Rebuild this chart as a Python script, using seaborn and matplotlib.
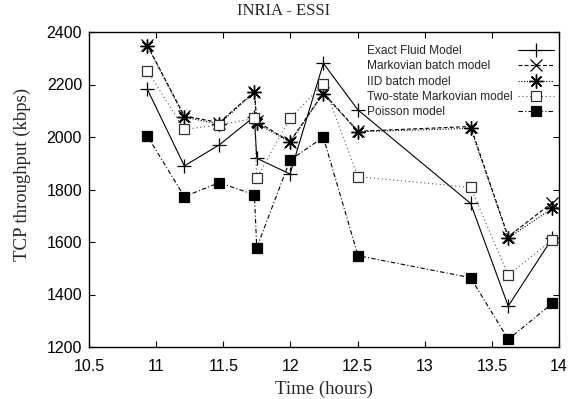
import matplotlib
matplotlib.use("Agg")
import matplotlib.pyplot as plt
from matplotlib.lines import Line2D
import seaborn as sns
import pandas as pd

# ---- data ----
time_hours = [10.934, 11.21, 11.47, 11.732, 11.749, 11.997, 12.245, 12.503, 13.342, 13.622, 13.95]
exact_fluid = [2182, 1890, 1970, 2078, 1919, 1859, 2281, 2103, 1747, 1356, 1614]
markovian_batch = [2350, 2080, 2055, 2173, 2060, 1982, 2168, 2022, 2040, 1620, 1750]
iid_batch = [2348, 2075, 2050, 2170, 2052, 1980, 2165, 2020, 2033, 1615, 1728]
two_state = [2253, 2029, 2046, 2071, 1843, 2071, 2202, 1849, 1808, 1474, 1608]
poisson = [2004, 1773, 1826, 1780, 1578, 1912, 1999, 1548, 1464, 1229, 1366]

series_names = ["Exact Fluid Model", "Markovian batch model", "IID batch model",
                "Two-state Markovian model", "Poisson model"]
series_values = [exact_fluid, markovian_batch, iid_batch, two_state, poisson]

x_ticks = [10.5, 11, 11.5, 12, 12.5, 13, 13.5, 14]
y_ticks = [1200, 1400, 1600, 1800, 2000, 2200, 2400]

sns.set_theme(style="ticks")
plt.rcParams["font.family"] = ["Liberation Sans", "DejaVu Sans"]

rows = []
for name, vals in zip(series_names, series_values):
    for t, v in zip(time_hours, vals):
        rows.append({"time": t, "throughput": v, "model": name})
df = pd.DataFrame(rows)

styles = {
    "Exact Fluid Model": dict(marker="+", ls="-", ms=10, mfc="black", mew=0.9),
    "Markovian batch model": dict(marker="x", ls=(0, (3.5, 2.0)), ms=8, mfc="black", mew=0.9),
    "IID batch model": dict(marker=(8, 2, 0), ls=(0, (1.0, 1.5)), ms=10, mfc="black", mew=1.0),
    "Two-state Markovian model": dict(marker="s", ls=(0, (1.0, 2.5)), ms=7, mfc="white", mew=0.9),
    "Poisson model": dict(marker="s", ls=(0, (4.0, 2.0, 1.0, 2.0)), ms=7, mfc="black", mew=0.9),
}

fig = plt.figure(figsize=(5.68, 3.99), dpi=100)
ax = fig.add_axes([89 / 568, 1 - 347 / 399, 470 / 568, 315 / 399])

for name in series_names:
    sub = df[df["model"] == name]
    st = styles[name]
    sns.lineplot(data=sub, x="time", y="throughput", ax=ax, color="black",
                 estimator=None, errorbar=None, label=name, linewidth=0.8)
    line = ax.lines[-1]
    line.set_linestyle(st["ls"])
    line.set_marker(st["marker"])
    line.set_markersize(st["ms"])
    line.set_markerfacecolor(st["mfc"])
    line.set_markeredgecolor("black")
    line.set_markeredgewidth(st["mew"])
    if name == "Two-state Markovian model":
        line.set_color("#555555")
        line.set_markeredgecolor("#333333")

ax.set_xlim(10.5, 14)
ax.set_ylim(1200, 2400)
ax.set_xticks(x_ticks)
ax.set_xticklabels([f"{t:g}" for t in x_ticks])
ax.set_yticks(y_ticks)
ax.set_yticklabels([str(v) for v in y_ticks])
ax.tick_params(axis="both", direction="in", top=True, right=True, length=4,
               width=0.8, labelsize=11.5, colors="black")
ax.tick_params(axis="x", pad=8.5)
ax.tick_params(axis="y", pad=5)
for sp in ax.spines.values():
    sp.set_visible(True)
    sp.set_linewidth(1.0)
    sp.set_color("black")

serif = ["Liberation Serif", "DejaVu Serif"]
ax.set_title("INRIA - ESSI", family=serif, fontsize=12, x=(284 - 89) / 470, pad=12)
ax.set_xlabel("Time (hours)", family=serif, fontsize=13.5)
ax.set_ylabel("TCP throughput (kbps)", family=serif, fontsize=13.5)
ax.xaxis.set_label_coords(0.5, -(381 - 347) / 315)
ax.yaxis.set_label_coords(-(89 - 31) / 470, (347 - 174) / 315)

# legend: left-aligned labels, line samples on the right (gnuplot style)
handles, labels = ax.get_legend_handles_labels()
if ax.get_legend() is not None:
    ax.get_legend().remove()
legend_top = 1 - 45 / 399
blank = [Line2D([], [], linestyle="none") for _ in handles]
leg_text = ax.legend(blank, labels, loc="upper left",
                     bbox_to_anchor=(367 / 568, legend_top), bbox_transform=fig.transFigure,
                     frameon=False, fontsize=8.6, handlelength=0, handletextpad=0,
                     labelspacing=0.28, borderpad=0, borderaxespad=0)
ax.add_artist(leg_text)
ax.legend(handles, [" "] * len(handles), loc="upper right",
          bbox_to_anchor=(554 / 568, legend_top), bbox_transform=fig.transFigure,
          frameon=False, markerfirst=False, fontsize=8.6, handlelength=3.0,
          handletextpad=0.2, labelspacing=0.28, borderpad=0, borderaxespad=0)

fig.savefig("out.png", dpi=100)
